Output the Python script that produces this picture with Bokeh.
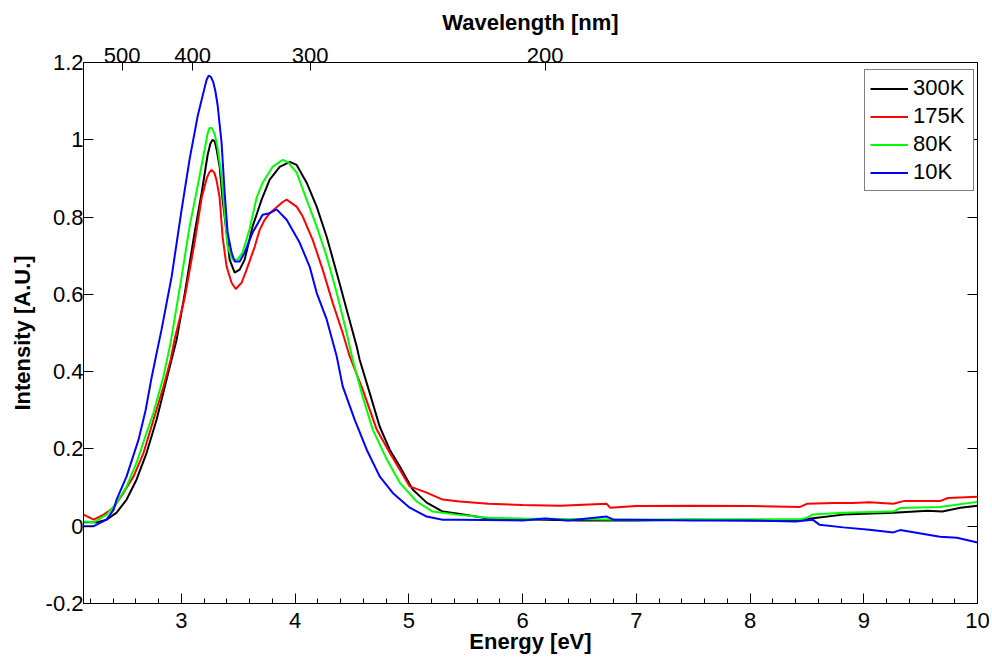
from bokeh.plotting import figure
from bokeh.models import (LinearAxis, FixedTicker, SingleIntervalTicker,
                          CustomJSTickFormatter, Range1d)
from bokeh.embed import file_html
from bokeh.resources import INLINE

FONT = "Liberation Sans"

# ---------------- data ----------------
labels = ["300K", "175K", "80K", "10K"]
colors = ["#000000", "#ff0000", "#00ff00", "#0000ff"]

e_300 = [2.141, 2.255, 2.343, 2.431, 2.519, 2.607, 2.695, 2.783, 2.871, 2.959,
         3.029, 3.117, 3.179, 3.231, 3.255, 3.275, 3.295, 3.310, 3.337, 3.363, 3.398, 3.425,
         3.469, 3.513, 3.557, 3.627, 3.706, 3.777, 3.865, 3.953, 4.014, 4.102,
         4.190, 4.278, 4.366, 4.454, 4.542, 4.568, 4.656, 4.744, 4.832, 4.920,
         5.034, 5.157, 5.298, 5.421, 5.7, 6.0, 6.5, 7.0, 7.5, 8.0,
         8.4, 8.59, 8.82, 9.26, 9.56, 9.69, 9.85, 10.0]
i_300 = [0.010, 0.010, 0.017, 0.035, 0.069, 0.121, 0.190, 0.276, 0.380, 0.483,
         0.600, 0.760, 0.863, 0.960, 0.990, 1.000, 0.995, 0.975, 0.930, 0.845, 0.760, 0.690,
         0.656, 0.664, 0.690, 0.776, 0.845, 0.897, 0.930, 0.943, 0.935, 0.889,
         0.827, 0.749, 0.656, 0.560, 0.465, 0.431, 0.345, 0.258, 0.198, 0.155,
         0.095, 0.061, 0.038, 0.033, 0.020, 0.018, 0.015, 0.015, 0.017, 0.015,
         0.015, 0.022, 0.030, 0.035, 0.040, 0.038, 0.048, 0.053]

e_175 = [2.141, 2.229, 2.317, 2.405, 2.493, 2.580, 2.668, 2.756, 2.844, 2.906,
         2.941, 3.029, 3.117, 3.179, 3.223, 3.245, 3.266, 3.290, 3.310, 3.337, 3.363, 3.398,
         3.442, 3.478, 3.530, 3.574, 3.645, 3.689, 3.733, 3.777, 3.891, 3.926,
         4.014, 4.067, 4.155, 4.243, 4.331, 4.419, 4.480, 4.594, 4.718, 4.832,
         4.920, 5.008, 5.157, 5.298, 5.447, 5.7, 6.0, 6.33, 6.74, 6.77,
         7.0, 7.5, 8.0, 8.44, 8.50, 8.73, 8.90, 9.05, 9.26, 9.35,
         9.67, 9.74, 10.0]
i_175 = [0.030, 0.017, 0.030, 0.048, 0.087, 0.129, 0.190, 0.276, 0.362, 0.431,
         0.483, 0.590, 0.734, 0.850, 0.900, 0.915, 0.922, 0.915, 0.895, 0.850, 0.749, 0.672,
         0.630, 0.614, 0.630, 0.664, 0.723, 0.767, 0.793, 0.810, 0.839, 0.845,
         0.827, 0.802, 0.741, 0.664, 0.578, 0.500, 0.440, 0.354, 0.250, 0.190,
         0.147, 0.103, 0.087, 0.069, 0.064, 0.058, 0.055, 0.053, 0.058, 0.048,
         0.052, 0.053, 0.052, 0.050, 0.058, 0.060, 0.060, 0.062, 0.058, 0.065,
         0.065, 0.073, 0.076]

e_80 = [2.141, 2.229, 2.343, 2.431, 2.519, 2.607, 2.695, 2.756, 2.844, 2.906,
        3.003, 3.073, 3.143, 3.205, 3.230, 3.249, 3.270, 3.293, 3.319, 3.354, 3.381, 3.407,
        3.451, 3.495, 3.539, 3.601, 3.662, 3.715, 3.803, 3.891, 3.935, 4.014,
        4.102, 4.190, 4.278, 4.366, 4.454, 4.507, 4.594, 4.683, 4.806, 4.920,
        5.069, 5.210, 5.421, 5.7, 6.0, 6.5, 7.0, 7.5, 8.0, 8.45,
        8.50, 8.55, 8.82, 9.26, 9.32, 9.67, 10.0]
i_80 = [0.012, 0.010, 0.030, 0.060, 0.103, 0.165, 0.242, 0.294, 0.388, 0.475,
        0.646, 0.776, 0.879, 0.975, 1.015, 1.031, 1.030, 1.015, 0.980, 0.905, 0.810, 0.723,
        0.690, 0.690, 0.708, 0.770, 0.850, 0.889, 0.930, 0.948, 0.943, 0.915,
        0.845, 0.776, 0.698, 0.604, 0.500, 0.430, 0.336, 0.250, 0.173, 0.113,
        0.064, 0.038, 0.030, 0.022, 0.020, 0.018, 0.017, 0.018, 0.018, 0.018,
        0.022, 0.030, 0.035, 0.038, 0.047, 0.050, 0.063]

e_10 = [2.141, 2.229, 2.343, 2.405, 2.431, 2.519, 2.624, 2.686, 2.739, 2.783,
        2.827, 2.915, 3.003, 3.073, 3.143, 3.205, 3.222, 3.240, 3.260, 3.280, 3.300, 3.319, 3.354,
        3.381, 3.407, 3.442, 3.469, 3.513, 3.557, 3.601, 3.627, 3.715, 3.777,
        3.838, 3.926, 4.040, 4.128, 4.190, 4.278, 4.366, 4.419, 4.524, 4.630,
        4.744, 4.859, 5.008, 5.157, 5.298, 5.447, 6.0, 6.2, 6.4, 6.74,
        6.8, 7.0, 7.5, 8.0, 8.4, 8.55, 8.61, 8.82, 9.05, 9.26,
        9.32, 9.67, 9.82, 10.0]
i_10 = [0.000, 0.000, 0.017, 0.043, 0.069, 0.129, 0.224, 0.300, 0.385, 0.448,
        0.510, 0.646, 0.820, 0.950, 1.060, 1.135, 1.155, 1.166, 1.163, 1.150, 1.125, 1.090, 0.992,
        0.863, 0.760, 0.708, 0.685, 0.685, 0.708, 0.741, 0.760, 0.806, 0.810,
        0.820, 0.793, 0.734, 0.672, 0.604, 0.535, 0.440, 0.362, 0.276, 0.198,
        0.129, 0.086, 0.048, 0.025, 0.017, 0.017, 0.015, 0.020, 0.015, 0.025,
        0.017, 0.017, 0.015, 0.015, 0.012, 0.017, 0.004, -0.003, -0.009, -0.016,
        -0.010, -0.027, -0.030, -0.042]

energies = [e_300, e_175, e_80, e_10]
intensities = [i_300, i_175, i_80, i_10]

y_ticks = [-0.2, 0, 0.2, 0.4, 0.6, 0.8, 1, 1.2]
wavelength_ticks = [500, 400, 300, 200]   # nm, top axis
HC = 1239.84                               # eV*nm

# ---------------- figure ----------------
p = figure(width=990, height=657,
           x_range=Range1d(2.14, 10.0), y_range=Range1d(-0.2, 1.2),
           output_backend="svg", toolbar_location=None,
           x_axis_location=None, y_axis_location=None,
           min_border_left=83, min_border_right=13,
           min_border_top=62, min_border_bottom=54)
p.xgrid.visible = False
p.ygrid.visible = False
p.outline_line_color = "black"
p.outline_line_width = 1
p.background_fill_color = "white"
p.border_fill_color = "white"


def style(ax, tick_in=10, minor_in=0):
    ax.major_tick_in = tick_in
    ax.major_tick_out = 0
    ax.minor_tick_in = minor_in
    ax.minor_tick_out = 0
    ax.axis_line_color = "black"
    ax.major_tick_line_color = "black"
    ax.minor_tick_line_color = "black"
    ax.major_label_text_font = FONT
    ax.major_label_text_font_size = "22px"
    ax.major_label_text_color = "black"
    ax.axis_label_text_font = FONT
    ax.axis_label_text_font_size = "22px"
    ax.axis_label_text_font_style = "bold"
    ax.axis_label_text_color = "black"


yfmt = CustomJSTickFormatter(code="return String(Number(tick.toFixed(1)));")

xb = LinearAxis(ticker=SingleIntervalTicker(interval=1, num_minor_ticks=5),
                axis_label="Energy [eV]")
style(xb, 10, 5)
xb.major_label_standoff = 9
xb.axis_label_standoff = -2
p.add_layout(xb, "below")

yl = LinearAxis(ticker=FixedTicker(ticks=y_ticks, minor_ticks=[]),
                formatter=yfmt, axis_label="Intensity [A.U.]")
style(yl, 10, 0)
yl.major_label_standoff = 0
yl.axis_label_standoff = 8
p.add_layout(yl, "left")

yr = LinearAxis(ticker=FixedTicker(ticks=y_ticks, minor_ticks=[]),
                formatter=CustomJSTickFormatter(code="return '';"))
style(yr, 10, 0)
yr.major_label_text_font_size = "0px"
yr.major_label_standoff = 0
p.add_layout(yr, "right")

xt = LinearAxis(ticker=FixedTicker(ticks=[HC / w for w in wavelength_ticks], minor_ticks=[]),
                formatter=CustomJSTickFormatter(code="return (%s / tick).toFixed(0);" % HC),
                axis_label="Wavelength [nm]")
style(xt, 8, 0)
xt.major_label_standoff = 0
xt.axis_label_standoff = 10
p.add_layout(xt, "above")

for e, i, lab, col in zip(energies, intensities, labels, colors):
    p.line(e, i, line_color=col, line_width=2, legend_label=lab)

lg = p.legend[0]
lg.location = (781, 412)
lg.label_text_font = FONT
lg.label_text_font_size = "22px"
lg.label_text_color = "black"
lg.glyph_width = 38
lg.glyph_height = 21
lg.label_height = 21
lg.label_width = 55
lg.label_standoff = 5
lg.spacing = 2
lg.padding = 5
lg.margin = 0
lg.border_line_color = "black"
lg.border_line_width = 1.5
lg.background_fill_color = "white"
lg.background_fill_alpha = 1.0

open("out.html", "w").write(file_html(p, INLINE))
